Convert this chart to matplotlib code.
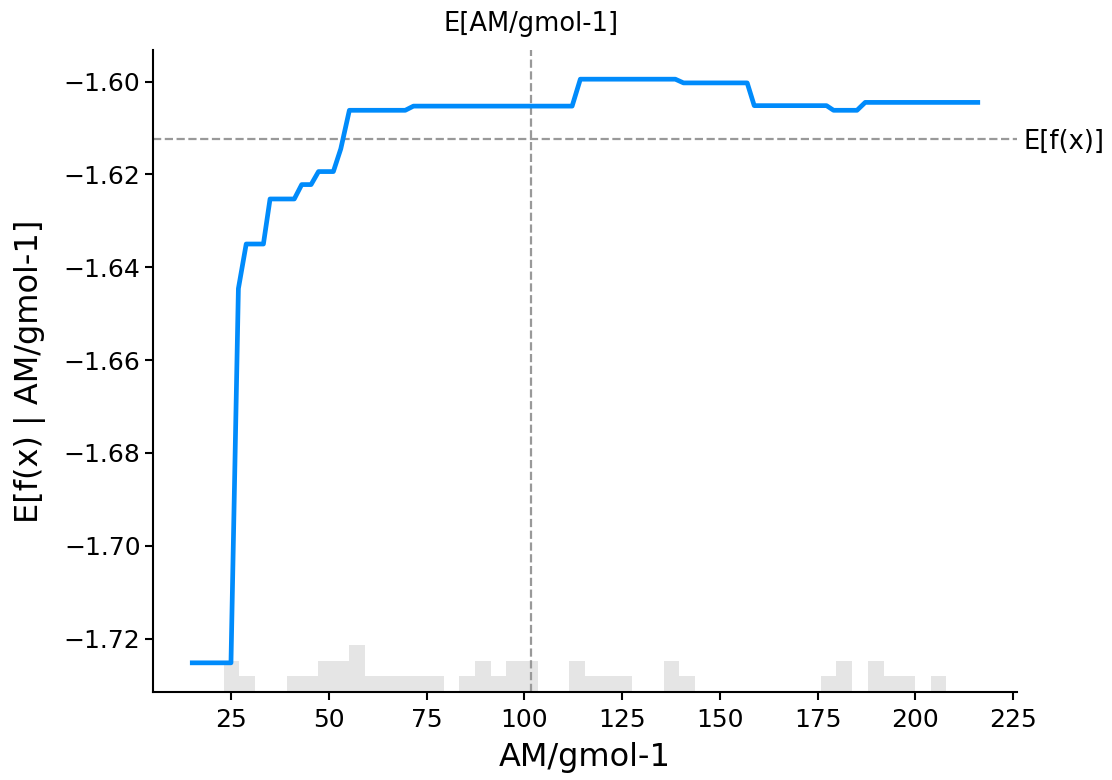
"""
Partial dependence plot of the model output on AM/gmol-1 (shap style).
"""

import numpy as np
import matplotlib.pyplot as plt

feature = "AM/gmol-1"

# corners of the partial dependence curve
am = [15.0, 24.9, 26.8, 28.8, 33.2, 34.9, 41.1, 43.0, 45.4, 47.3, 51.1,
      53.0, 55.2, 69.5, 71.6, 112.2, 114.3, 138.6, 140.7, 157.0, 158.8,
      177.3, 179.1, 185.1, 187.2, 216.0]
pd_vals = [-1.7252, -1.7252, -1.6446, -1.6350, -1.6350, -1.6253, -1.6253,
           -1.6222, -1.6222, -1.6194, -1.6194, -1.6145, -1.6062, -1.6062,
           -1.6053, -1.6053, -1.5995, -1.5995, -1.6003, -1.6003, -1.6052,
           -1.6052, -1.6062, -1.6062, -1.6045, -1.6045]

# histogram of the feature (50 bins over the data range)
hist_range = (15.0, 216.0)
hist_counts = [0, 0, 2, 1, 0, 0, 1, 1, 2, 2,
               3, 1, 1, 1, 1, 1, 0, 1, 2, 1,
               2, 2, 0, 0, 2, 1, 1, 1, 0, 0,
               2, 1, 0, 0, 0, 0, 0, 0, 0, 0,
               1, 2, 0, 2, 1, 1, 0, 1, 0, 0]

feature_mean = 101.6
expected_value = -1.6123

blue = "#008bfb"
grey = "#999999"

fig = plt.figure(figsize=(11.12, 7.8), dpi=100)
ax1 = fig.add_axes([0.1376, 0.1128, 0.777, 0.8231])

# histogram in the background
ax2 = ax1.twinx()
edges = np.linspace(hist_range[0], hist_range[1], len(hist_counts) + 1)
ax2.hist(edges[:-1], bins=edges, weights=hist_counts, facecolor="black", alpha=0.1)
ax2.set_ylim(0, sum(hist_counts))
ax2.set_yticks([])
for s in ax2.spines.values():
    s.set_visible(False)

ax1.plot(am, pd_vals, color=blue, linewidth=3.4, zorder=3)
ax1.axhline(expected_value, color=grey, linestyle="--", linewidth=1.6, zorder=-1)
ax1.axvline(feature_mean, color=grey, linestyle="--", linewidth=1.6, zorder=-1)
ax1.set_zorder(ax2.get_zorder() + 1)
ax1.patch.set_visible(False)

ax1.set_xlabel(feature, fontsize=23, labelpad=7)
ax1.set_ylabel("E[f(x) | " + feature + "]", fontsize=23, labelpad=13)
ax1.set_yticks([-1.72, -1.70, -1.68, -1.66, -1.64, -1.62, -1.60])
ax1.set_xticks([25, 50, 75, 100, 125, 150, 175, 200, 225])
ax1.tick_params(labelsize=18, length=5.5, width=1.5)
ax1.tick_params(axis="x", pad=6)
ax1.spines["top"].set_visible(False)
ax1.spines["right"].set_visible(False)
ax1.spines["left"].set_linewidth(1.5)
ax1.spines["bottom"].set_linewidth(1.5)

# E[feature] label on top
ax3 = ax1.twiny()
ax3.set_xlim(ax1.get_xlim())
ax3.set_xticks([feature_mean])
ax3.set_xticklabels(["E[" + feature + "]"], fontsize=18.5)
ax3.tick_params(length=0, pad=9)
for s in ax3.spines.values():
    s.set_visible(False)

# E[f(x)] label on the right
ax4 = ax1.twinx()
ax4.set_ylim(ax1.get_ylim())
ax4.set_yticks([expected_value])
ax4.set_yticklabels(["E[f(x)]"], fontsize=18.5)
ax4.tick_params(length=0, pad=5)
for s in ax4.spines.values():
    s.set_visible(False)

fig.savefig("out.png", dpi=100)
